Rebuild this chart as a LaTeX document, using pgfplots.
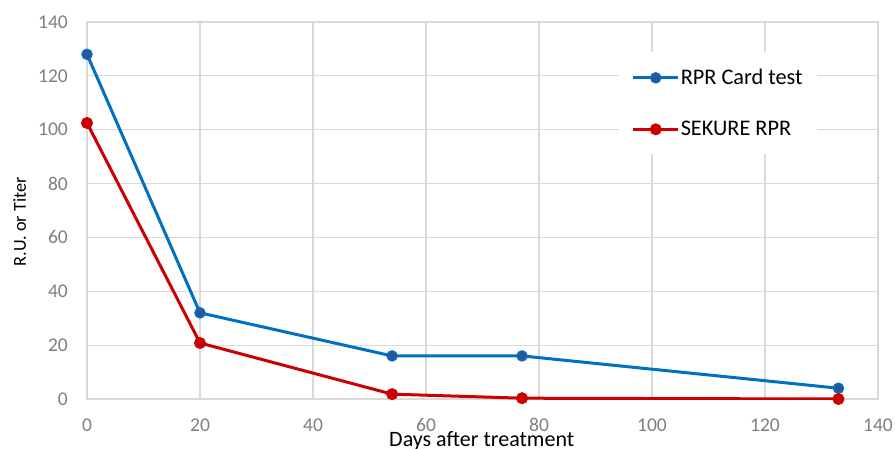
\documentclass[border=0pt]{standalone}
\usepackage{pgfplots}
\pgfplotsset{compat=1.18}
\usepackage{fontspec}
\setmainfont{Carlito}

\definecolor{rprblue}{HTML}{0070C0}
\definecolor{rprmark}{HTML}{2F5597}
\definecolor{sekred}{HTML}{CC0000}
\definecolor{gridgray}{HTML}{D9D9D9}
\definecolor{tickgray}{HTML}{7F7F7F}

\begin{document}
\begin{tikzpicture}
\clip (0pt,0pt) rectangle (895pt,448pt);
\path[fill=white] (0pt,0pt) rectangle (895pt,448pt);
\begin{axis}[
    at={(87pt,49pt)}, anchor=south west,
    scale only axis,
    width=791pt, height=377pt,
    xmin=0, xmax=140, ymin=0, ymax=140,
    xtick={0,20,...,140}, ytick={0,20,...,140},
    grid=major,
    major grid style={gridgray, line width=1.2pt},
    axis line style={gridgray, line width=1.2pt},
    major tick length=0pt,
    /pgf/number format/assume math mode=true,
    tick label style={font=\fontsize{19.5}{22}\selectfont, text=tickgray, inner sep=0pt},
    xticklabel style={anchor=center, yshift=-26pt},
    yticklabel style={anchor=east, xshift=-19pt},
    xlabel={Days after treatment},
    ylabel={R.U. or Titer},
    xlabel style={font=\fontsize{22}{26}\selectfont, inner sep=0pt, anchor=base, at={(rel axis cs:0.499,0)}, yshift=-47pt},
    ylabel style={font=\fontsize{18.2}{22}\selectfont, inner sep=0pt, anchor=base, at={(rel axis cs:0,0.47)}, yshift=61pt},
    legend style={draw=none, fill=white, at={(rel axis cs:0.672,0.92)}, anchor=north west,
        inner xsep=13pt, inner ysep=14pt, row sep=29pt,
        font=\fontsize{22.3}{26}\selectfont,
        nodes={inner xsep=1pt, inner ysep=3pt}},
    legend cell align=left,
    legend image code/.code={
        \draw[mark repeat=2,mark phase=2,#1] plot coordinates {(0pt,0pt) (22.5pt,0pt) (45pt,0pt)};
    },
]
\addplot[rprblue, line width=3pt, mark=*, mark size=5pt,
    mark options={fill=rprmark, draw=rprblue, line width=1.5pt}]
    coordinates {(0,128) (20,32) (54,16) (77,16) (133,4)};
\addlegendentry{RPR Card test}
\addplot[sekred, line width=3pt, mark=*, mark size=5.5pt,
    mark options={fill=sekred, draw=sekred, line width=1pt}]
    coordinates {(0,102.5) (20,20.8) (54,1.8) (77,0.3) (133,0)};
\addlegendentry{SEKURE RPR}
\end{axis}
\end{tikzpicture}
\end{document}
